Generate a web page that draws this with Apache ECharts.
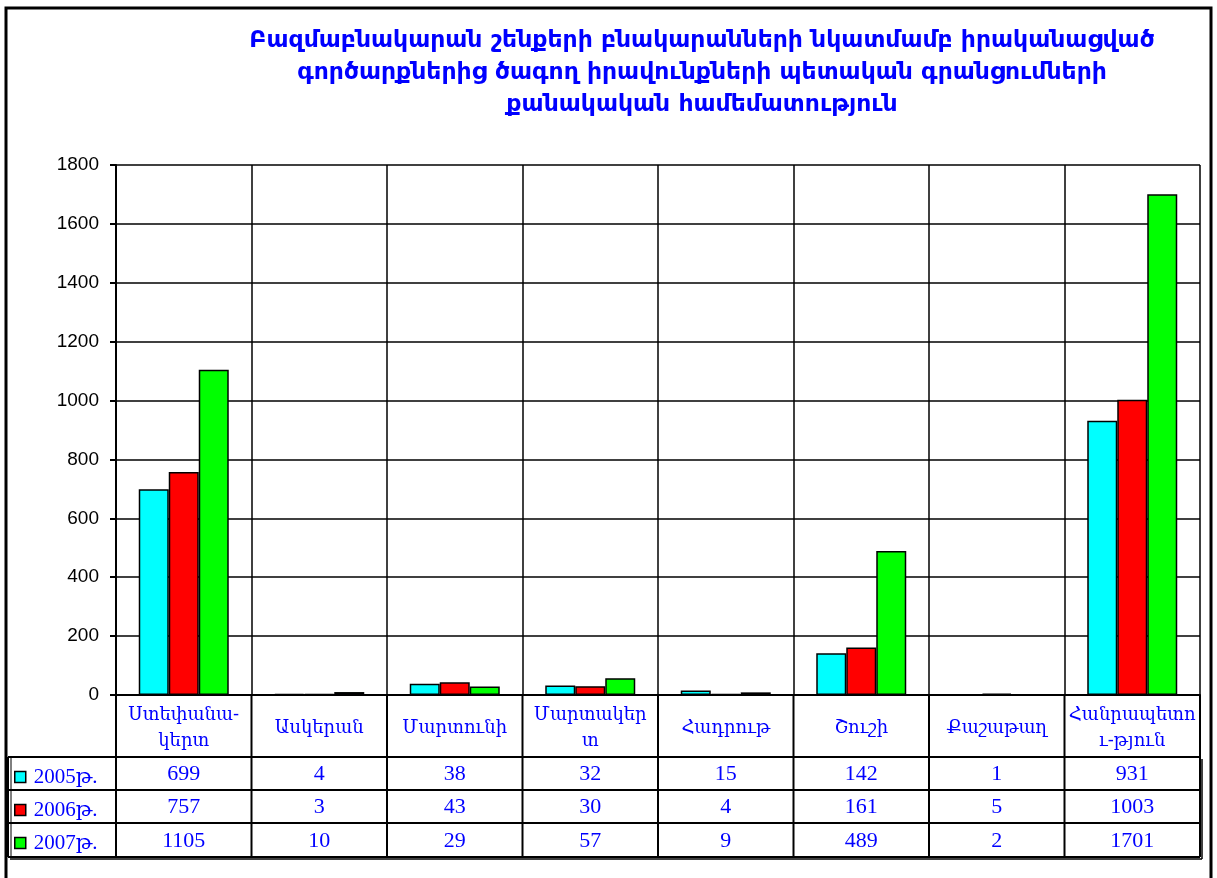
<!DOCTYPE html>
<html><head><meta charset="utf-8">
<script src="https://cdn.jsdelivr.net/npm/echarts@6/dist/echarts.min.js"></script>
<style>html,body{margin:0;padding:0;background:#fff}#c{width:1217px;height:878px}</style>
</head><body><div id="c"></div>
<script>
const titleLines = ['Բազմաբնակարան շենքերի բնակարանների նկատմամբ իրականացված','գործարքներից ծագող իրավունքների պետական գրանցումների','քանակական համեմատություն'];
const categories = ['Ստեփանա-\nկերտ','Ասկերան','Մարտունի','Մարտակեր\nտ','Հադրութ','Շուշի','Քաշաթաղ','Հանրապետո\nւ-թյուն'];
const seriesNames = ['2005թ.','2006թ.','2007թ.'];
const v2005 = [699,4,38,32,15,142,1,931];
const v2006 = [757,3,43,30,4,161,5,1003];
const v2007 = [1105,10,29,57,9,489,2,1701];
const yTicks = [0,200,400,600,800,1000,1200,1400,1600,1800];

const colors = ['#00ffff','#ff0000','#00ff00'];
const values = [v2005, v2006, v2007];
const G = {left:116, right:1200, top:165, bottom:695};
const rowY = [757, 790, 823, 857];
const tableLeft = 8;
const blue = '#0000ff';

const chart = echarts.init(document.getElementById('c'));
const option = {
  animation:false,
  backgroundColor:'#fff',
  title:{
    text: titleLines.join('\n'),
    left: 697, top: 20, textAlign:'center',
    textStyle:{fontFamily:'DejaVu Sans', fontWeight:'bold', fontSize:23.5, color:blue, lineHeight:32}
  },
  legend:{
    orient:'vertical', left:9, top:760, itemGap:9,
    itemWidth:11, itemHeight:11, icon:'rect',
    data: seriesNames,
    itemStyle:{borderColor:'#000', borderWidth:1.5},
    textStyle:{fontFamily:'Liberation Serif, DejaVu Serif', fontSize:21, color:blue, lineHeight:24, padding:[0,0,0,3]}
  },
  grid:{left:G.left, top:G.top, width:G.right-G.left, height:G.bottom-G.top},
  xAxis:{
    type:'category', data:categories,
    axisLine:{lineStyle:{color:'#000', width:2}},
    axisTick:{show:false},
    splitLine:{show:true, lineStyle:{color:'#000', width:1.5}},
    axisLabel:{interval:0, margin:33, verticalAlign:'middle', lineHeight:26,
      fontFamily:'DejaVu Serif', fontSize:18, color:blue}
  },
  yAxis:{
    type:'value', min:yTicks[0], max:yTicks[yTicks.length-1], interval:200,
    axisLine:{show:true, lineStyle:{color:'#000', width:2}},
    axisTick:{show:true, length:6, lineStyle:{color:'#000', width:2}},
    splitLine:{lineStyle:{color:'#000', width:1.5}},
    axisLabel:{fontFamily:'Liberation Sans, Arial', fontSize:19, color:'#000', margin:17,
      formatter:(v)=>String(v)}
  },
  series: seriesNames.map((n,i)=>({
    name:n, type:'bar', data:values[i], barWidth:30, barGap:'0%',
    itemStyle:{color:colors[i], borderColor:'#000', borderWidth:1.5}
  }))
};
chart.setOption(option);

const g = [];
const line = (x1,y1,x2,y2,w)=>g.push({type:'line', shape:{x1,y1,x2,y2}, style:{stroke:'#000', lineWidth:w||2}, silent:true});
g.push({type:'rect', shape:{x:6,y:8,width:1205,height:900}, style:{fill:'none', stroke:'#000', lineWidth:3}, silent:true});
rowY.forEach(y=>line(tableLeft, y, G.right, y, 2));
line(tableLeft, rowY[0], tableLeft, rowY[3], 2);
line(tableLeft+3, rowY[0], tableLeft+3, rowY[3], 1);
const bounds = [];
for(let i=0;i<=categories.length;i++){ bounds.push(G.left + (G.right-G.left)*i/categories.length); }
bounds.forEach(x=>line(x, G.bottom, x, rowY[3], 2));
line(G.right+2, rowY[0]+2, G.right+2, rowY[3]+2, 1.5);
line(tableLeft+2, rowY[3]+2, G.right+2, rowY[3]+2, 1.5);
values.forEach((arr,r)=>{
  arr.forEach((v,i)=>{
    const x = chart.convertToPixel({xAxisIndex:0}, i);
    g.push({type:'text', x:x, y:(rowY[r]+rowY[r+1])/2+1, silent:true,
      style:{text:String(v), align:'center', verticalAlign:'middle', fontFamily:'Liberation Serif', fontSize:22, fill:blue}});
  });
});
chart.setOption({graphic:g});
</script></body></html>
